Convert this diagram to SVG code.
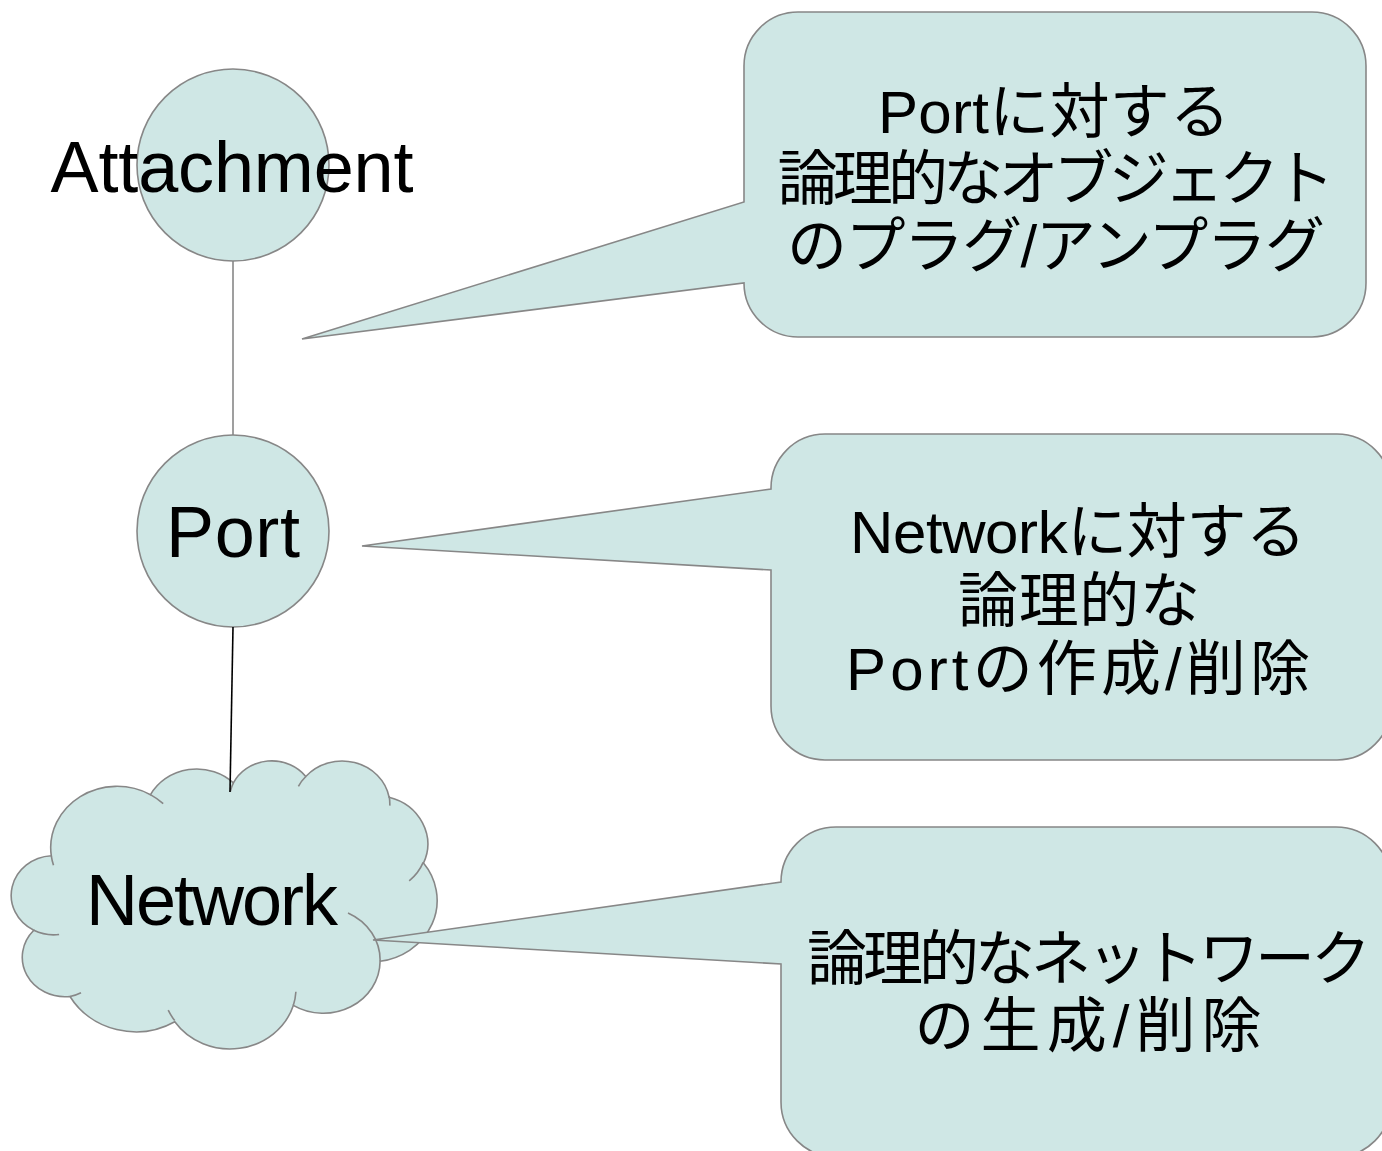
<svg xmlns="http://www.w3.org/2000/svg" width="1382" height="1151" viewBox="0 0 1382 1151">
  <style>
    .shape { fill: #cfe7e5; stroke: #878787; stroke-width: 1.6; stroke-linejoin: miter; }
    .sketch { fill: none; stroke: #878787; stroke-width: 1.6; }
    .label { font-family: "Liberation Sans", "Noto Sans CJK JP", sans-serif; fill: #000; text-anchor: middle; }
    .node-label { font-size: 72px; }
    .note { font-family: "Liberation Sans", "Noto Sans CJK JP", sans-serif; font-size: 60px; fill: #000; text-anchor: middle; }
    .link { fill: none; stroke-width: 1.6; }
  </style>
  <rect width="1382" height="1151" fill="#ffffff"/>

  <!-- Nodes -->
  <g id="attachment">
    <circle class="shape" cx="233" cy="165" r="96"/>
    <text class="label node-label" x="232" y="192" textLength="363" lengthAdjust="spacing">Attachment</text>
  </g>

  <g id="port">
    <circle class="shape" cx="233" cy="531" r="96"/>
    <text class="label node-label" x="233" y="557" textLength="134" lengthAdjust="spacing">Port</text>
  </g>

  <g id="network">
    <!-- cloud outline: eleven elliptical bumps -->
    <path class="shape" d="M 51.3,855.8
      A 66.3,61.3 0 0 1 150.5,794.7
      A 52.3,48.4 0 0 1 233.4,782.9
      A 42.8,39.6 0 0 1 305.8,776.5
      A 47.7,44.0 0 0 1 389.1,797.2
      A 52.3,48.5 0 0 1 423.5,863.1
      A 66.5,61.5 0 0 1 380.1,961.3
      A 56.8,52.4 0 0 1 293.3,1005.4
      A 66.3,61.4 0 0 1 174.8,1021.8
      A 75.8,70.3 0 0 1 70.0,996.5
      A 42.8,39.5 0 0 1 33.8,930.3
      A 42.6,39.6 0 0 1 51.3,855.8 Z"/>
    <!-- inner strokes where the bumps overlap -->
    <path class="sketch" d="M 59.1,934.5 A 42.6,39.6 0 0 1 33.8,930.3
      M 81.0,992.7 A 42.8,39.5 0 0 1 70.0,996.5
      M 174.7,1020.6 A 66.3,61.4 0 0 1 168.2,1010.2
      M 295.9,991.7 A 66.3,61.4 0 0 1 293.3,1005.4
      M 348.0,913.0 A 56.8,52.4 0 0 1 380.1,961.3
      M 423.2,862.4 A 52.3,48.5 0 0 1 409.2,880.9
      M 389.1,796.2 A 47.7,44.0 0 0 1 389.8,805.6
      M 298.4,786.3 A 47.7,44.0 0 0 1 305.8,776.5
      M 230.3,791.5 A 42.8,39.6 0 0 1 233.4,782.9
      M 150.4,794.6 A 66.3,61.3 0 0 1 163.2,803.7
      M 53.5,865.3 A 66.3,61.3 0 0 1 51.3,855.8"/>
    <text class="label node-label" x="212" y="925" textLength="252" lengthAdjust="spacing">Network</text>
  </g>

  <!-- Connectors -->
  <g id="connectors">
    <line class="link" x1="233" y1="261" x2="233" y2="435" stroke="#878787"/>
    <line class="link" x1="233" y1="627" x2="230" y2="792" stroke="#000000"/>
  </g>

  <!-- Callouts -->
  <g id="callout-attachment">
    <path class="shape" d="M 798,12 H 1312 A 54,54 0 0 1 1366,66 V 283 A 54,54 0 0 1 1312,337 H 798 A 54,54 0 0 1 744,283 L 302,339 L 744,202 V 66 A 54,54 0 0 1 798,12 Z"/>
    <text class="note" x="1054" y="133" textLength="352" lengthAdjust="spacing">Portに対する</text>
    <text class="note" x="1056" y="200" textLength="557" lengthAdjust="spacing">論理的なオブジェクト</text>
    <text class="note" x="1056" y="267" textLength="538" lengthAdjust="spacing">のプラグ/アンプラグ</text>
  </g>

  <g id="callout-port">
    <path class="shape" d="M 825,434 H 1337 A 54,54 0 0 1 1391,488 V 706 A 54,54 0 0 1 1337,760 H 825 A 54,54 0 0 1 771,706 V 570 L 362,546 L 771,489 V 488 A 54,54 0 0 1 825,434 Z"/>
    <text class="note" x="1078" y="553" textLength="456" lengthAdjust="spacing">Networkに対する</text>
    <text class="note" x="1079" y="622" textLength="242" lengthAdjust="spacing">論理的な</text>
    <text class="note" x="1078" y="690" textLength="464" lengthAdjust="spacing">Portの作成/削除</text>
  </g>

  <g id="callout-network">
    <path class="shape" d="M 836,827 H 1336 A 55,55 0 0 1 1391,882 V 1102 A 55,55 0 0 1 1336,1157 H 836 A 55,55 0 0 1 781,1102 V 964 L 373,940 L 781,882 A 55,55 0 0 1 836,827 Z"/>
    <text class="note" x="1089" y="980" textLength="564" lengthAdjust="spacing">論理的なネットワーク</text>
    <text class="note" x="1088" y="1047" textLength="347" lengthAdjust="spacing">の生成/削除</text>
  </g>
</svg>
